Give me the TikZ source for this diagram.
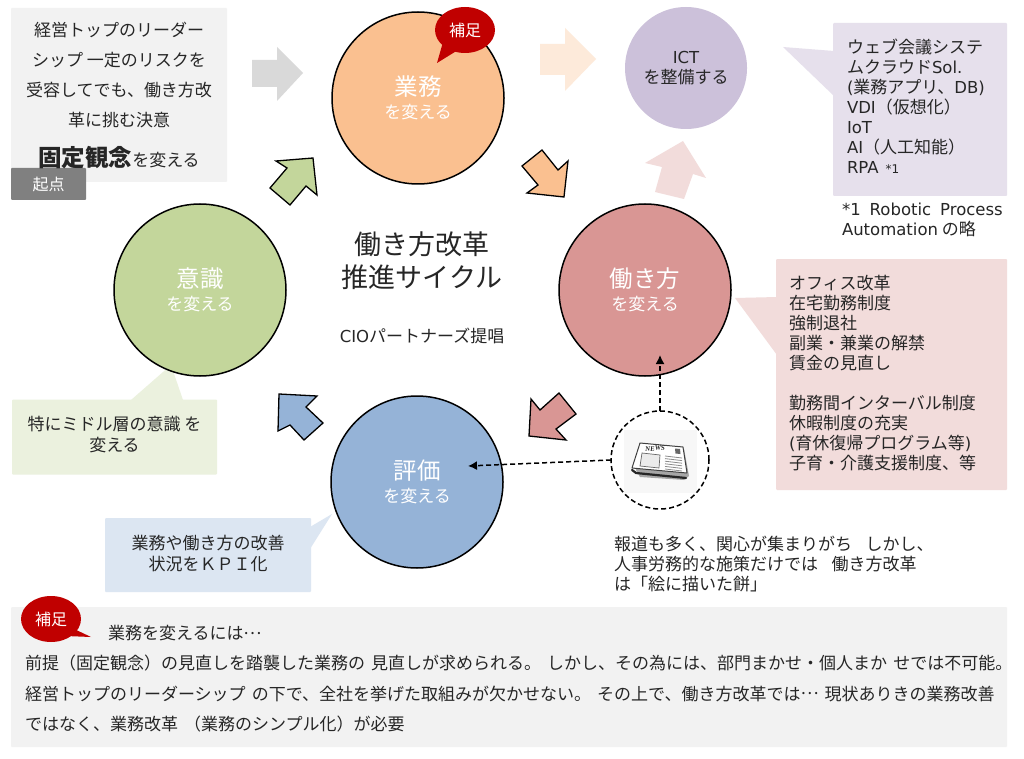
\documentclass[tikz,border=0pt]{standalone}
\usepackage{fontspec}
\setmainfont{Noto Sans CJK JP}
\newfontfamily\latf{DejaVu Sans}
\newfontfamily\newsf{Liberation Serif}
\newcommand{\Lt}[1]{{\latf\addfontfeatures{Scale=0.97}#1}}
\newcommand{\midell}{\raisebox{.32em}{…}}
\usetikzlibrary{arrows.meta,shapes.geometric}
\definecolor{txt}{HTML}{262626}
\definecolor{corange}{HTML}{FAC090}
\definecolor{cpurple}{HTML}{CCC1DA}
\definecolor{cred}{HTML}{D99694}
\definecolor{cgreen}{HTML}{C3D69B}
\definecolor{cblue}{HTML}{95B3D7}
\definecolor{lpurple}{HTML}{E6E0EC}
\definecolor{lred}{HTML}{F2DCDB}
\definecolor{lgreen}{HTML}{EBF1DE}
\definecolor{lblue}{HTML}{DCE6F2}
\definecolor{lorange}{HTML}{FDEADA}
\definecolor{lgrey}{HTML}{F2F2F2}
\definecolor{mgrey}{HTML}{D9D9D9}
\definecolor{dred}{HTML}{C00000}
\newcommand{\wsp}{\spaceskip=.36em\relax}
\newcommand{\wspb}{\spaceskip=.8em\relax}
\tikzset{
  cyc/.style={circle,draw=black,line width=1.5pt,minimum size=172pt,inner sep=0pt,outer sep=0pt,text=white,align=center,
    font=\fontsize{17}{22}\selectfont},
  blockarrow/.style={draw=black,line width=1.3pt,line join=miter},
  softarrow/.style={draw=none},
  panel/.style={rectangle,rounded corners=1pt,inner sep=0pt,outer sep=0pt},
  body/.style={inner sep=0pt,outer sep=0pt,text=txt,font=\fontsize{17}{20}\selectfont},
  leftbody/.style={body,align=left,anchor=north west},
  midbody/.style={body,align=center},
  bubble/.style={ellipse,fill=dred,inner sep=0pt,outer sep=0pt,minimum width=60pt,minimum height=46pt,text=white,
    font=\fontsize{16}{18}\selectfont},
  dashline/.style={line width=1.5pt,dash pattern=on 5pt off 3pt,black},
}
\newcommand{\Bg}[1]{{\fontsize{23.5}{26}\selectfont #1}}
\begin{document}
\begin{tikzpicture}[x=1pt,y=-1pt]
\useasboundingbox (0,0) rectangle (1024,759);
\fill[white] (0,0) rectangle (1024,759);

% panels
\node[panel,fill=lgrey,minimum width=216pt,minimum height=174pt] (startbox) at (119,95) {};
\node[panel,fill=black!50,minimum width=75pt,minimum height=32pt,text=white,font=\fontsize{16}{18}\selectfont] (origin) at (48.5,184) {起点};
\node[panel,fill=lpurple,minimum width=174pt,minimum height=173pt] (ictbox) at (920,109.5) {};
\fill[lpurple] (783,47) -- (834,51) -- (834,96) -- cycle;
\node[panel,fill=lred,minimum width=231pt,minimum height=231pt] (workbox) at (891.5,374.5) {};
\fill[lred] (735,298) -- (777,297) -- (777,355) -- cycle;
\node[panel,fill=lgreen,minimum width=205pt,minimum height=75pt] (mindbox) at (114.5,437) {};
\fill[lgreen] (171,365) -- (131,400) -- (183,400) -- cycle;
\node[panel,fill=lblue,minimum width=206pt,minimum height=74pt] (kpibox) at (208,555) {};
\fill[lblue] (332,514) -- (310,527) -- (310,549) -- cycle;
\node[panel,fill=lgrey,minimum width=996pt,minimum height=140pt] (notebox) at (509,677) {};

% circles
\node[cyc,fill=corange] (biz) at (418,98) {\Bg{業務}\\[1.5pt]を変える};
\node[cyc,fill=cred] (way) at (645,290) {\Bg{働き方}\\[1.5pt]を変える};
\node[cyc,fill=cblue] (eval) at (417,482) {\Bg{評価}\\[1.5pt]を変える};
\node[cyc,fill=cgreen] (mind) at (200,290) {\Bg{意識}\\[1.5pt]を変える};
\node[circle,fill=cpurple,minimum size=122pt,inner sep=0pt,outer sep=0pt,text=txt,align=center,font=\fontsize{17}{20.5}\selectfont] (ict) at (686,68) {\Lt{ICT}\\を整備する};

% block arrows
\fill[mgrey,softarrow] (252,60) -- (277,60) -- (277,47) -- (303,73) -- (277,101) -- (277,87) -- (252,87) -- cycle;
\fill[lorange,softarrow] (540,44) -- (565,44) -- (565,28) -- (596,59) -- (565,91) -- (565,75) -- (540,75) -- cycle;
\fill[lred,softarrow] (683,141) -- (706,178) -- (693,174) -- (684,199) -- (655,192) -- (662,167) -- (645,163) -- cycle;
\filldraw[fill=cgreen,blockarrow] (276,161) -- (313,158) -- (317,195) -- (306,186) -- (290,205) -- (270,188) -- (287,168) -- cycle;
\filldraw[fill=corange,blockarrow] (542,150) -- (558,170) -- (568,161) -- (564,197) -- (527,193) -- (538,185) -- (522,166) -- cycle;
\filldraw[fill=cred,blockarrow] (559,393) -- (576,414) -- (556,429) -- (566,440) -- (529,436) -- (531,399) -- (540,410) -- cycle;
\filldraw[fill=cblue,blockarrow] (279,394) -- (317,396) -- (306,407) -- (323,423) -- (304,440) -- (290,425) -- (278,431) -- cycle;

% speech bubbles
\fill[dred] (443,42) -- (437,63) -- (458,50) -- cycle;
\node[bubble] (hosoku1) at (465,30) {補足};
\fill[dred] (70,627) -- (91,637) -- (66,636) -- cycle;
\node[bubble] (hosoku2) at (51,619) {補足};

% newspaper
\fill[black!3] (624,430) rectangle (697,493);
\fill[black!35] (636,470) -- (642,446) -- (684,449) -- (689,476) -- (684,480) -- (640,477) -- cycle;
\filldraw[fill=white,draw=black!75,line width=1pt,line join=round] (640,443) -- (683,447) -- (687,473) -- (632,468) -- cycle;
\draw[black!85,line width=2.2pt,line cap=round] (632,470) -- (636,473) -- (686,478);
\fill[black!8] (642,453) -- (660,455) -- (659,468) -- (640,466) -- cycle;
\draw[black!60,line width=.7pt] (642,453) -- (660,455) -- (659,468) -- (640,466) -- cycle;
\foreach \yy in {0,1,...,5}{\draw[black!45,line width=.8pt] (665,{456+\yy*2.6}) -- (682,{458+\yy*2.6});}
\node[inner sep=0pt,rotate=5,text=black!85,font=\newsf\bfseries\itshape\fontsize{7}{7}\selectfont] (newsword) at (655,448.5) {NEWS};
\fill[black!60] (675,448.5) -- (680,449) -- (680.5,454) -- (675.5,453.5) -- cycle;

% dashed connectors
\node[circle,draw=black,dashline,minimum size=98pt,inner sep=0pt,outer sep=0pt] (news) at (660,460) {};
\coordinate (wayend) at (660,355);
\coordinate (evalend) at (468,466);
\draw[dashline,-{Latex[length=9pt,width=9pt]}] (news.north) -- (wayend);
\draw[dashline,-{Latex[length=9pt,width=9pt]}] (news.west) -- (evalend);

% text
\node[midbody,align=center,font=\fontsize{17}{30}\selectfont] (starttext) at (119,75) {経営トップのリーダー\\シップ 一定のリスクを\\受容してでも、働き方改\\革に挑む決意};
\node[midbody] (kotei) at (119,158) {{\bfseries\fontsize{23.5}{26}\selectfont 固定観念}を変える};
\node[body,text=txt,align=center,font=\fontsize{27}{33}\selectfont] (title) at (422,261) {働き方改革\\推進サイクル};
\node[body] (cio) at (422,336) {\Lt{CIO}パートナーズ提唱};
\node[leftbody] (icttext) at (847,39) {ウェブ会議システ\\ムクラウド\Lt{Sol.}\\\Lt{(}業務アプリ、\Lt{DB)}\\\Lt{VDI}（仮想化）\\\Lt{IoT}\\\Lt{AI}（人工知能）\\\Lt{RPA}\hspace{7pt}{\latf\fontsize{12}{14}\selectfont *1}};
\node[leftbody] (footnote) at (842,203) {\Lt{*1\hspace{9pt}Robotic\hspace{9pt}Process}\\\Lt{Automation} の略};
\node[leftbody] (worktext) at (789,275) {オフィス改革\\在宅勤務制度\\強制退社\\副業・兼業の解禁\\賃金の見直し\\[20pt]勤務間インターバル制度\\休暇制度の充実\\\Lt{(}育休復帰プログラム等\Lt{)}\\子育・介護支援制度、等};
\node[midbody,font=\fontsize{17}{21}\selectfont] (mindtext) at (114.5,435) {特にミドル層の意識 を\\変える};
\node[midbody,font=\fontsize{17}{20.5}\selectfont] (kpitext) at (208,553.5) {業務や働き方の改善\\状況をＫＰＩ化};
\node[leftbody,font=\fontsize{17}{20}\selectfont\wspb] (presstext) at (614,536) {報道も多く、関心が集まりがち しかし、\\人事労務的な施策だけでは 働き方改革\\は「絵に描いた餅」};
\node[body,anchor=west] (notehead) at (108,633) {業務を変えるには\midell};
\node[leftbody,font=\fontsize{17}{30.5}\selectfont\wsp] (notetext) at (25,655) {前提（固定観念）の見直しを踏襲した業務の 見直しが求められる。 しかし、その為には、部門まかせ・個人まか せでは不可能。\\経営トップのリーダーシップ の下で、全社を挙げた取組みが欠かせない。 その上で、働き方改革では\midell{} 現状ありきの業務改善\\ではなく、業務改革 （業務のシンプル化）が必要};
\end{tikzpicture}
\end{document}
